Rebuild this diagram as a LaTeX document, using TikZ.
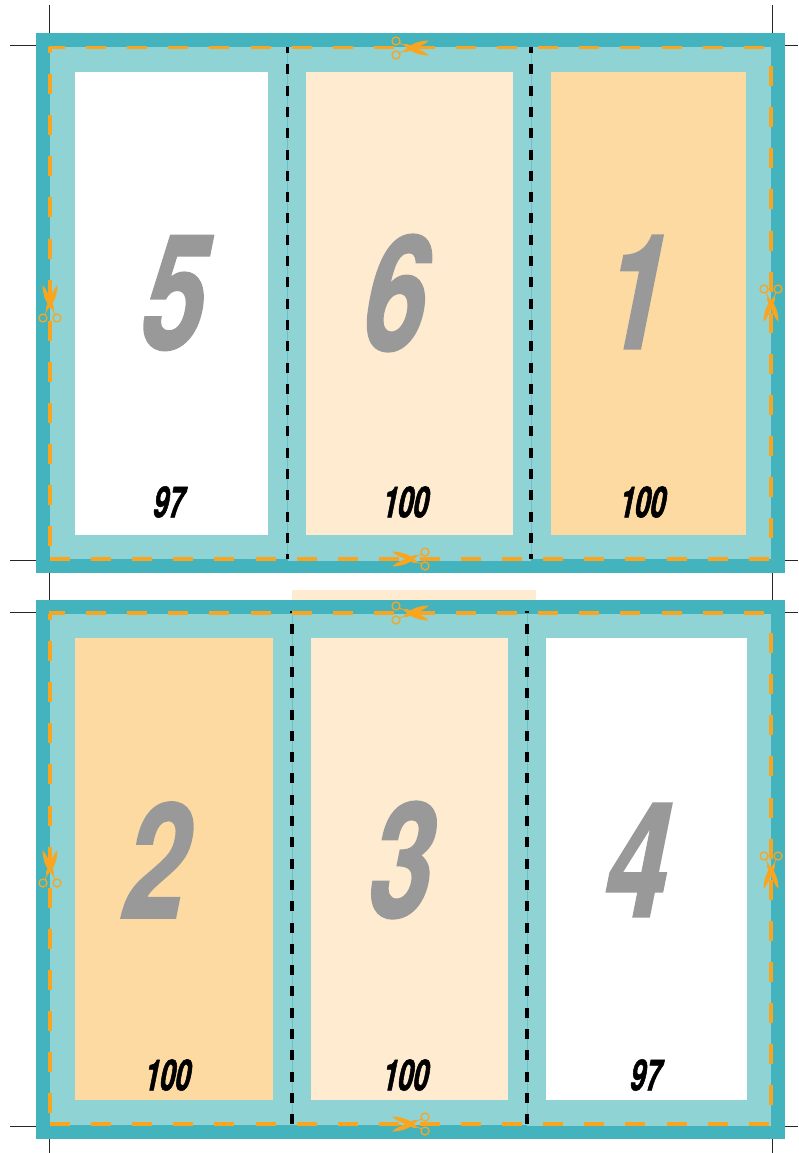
\documentclass[tikz,border=0pt]{standalone}
\usepackage{fontspec}
\usetikzlibrary{positioning}
\newfontfamily\numfont[FakeStretch=0.7,FakeSlant=0.2,FakeBold=1.2]{TeX Gyre Heros}
\newfontfamily\countfont[FakeStretch=0.64,FakeSlant=0.2,FakeBold=1.2]{TeX Gyre Heros}
\definecolor{sheetteal}{HTML}{43B4BD}
\definecolor{bleedteal}{HTML}{90D3D4}
\definecolor{foldteal}{HTML}{6BC2C6}
\definecolor{pagecream}{HTML}{FEEBD0}
\definecolor{pageorange}{HTML}{FEDAA3}
\definecolor{cutorange}{HTML}{F9A51F}
\definecolor{numgray}{HTML}{999999}

\begin{document}
\begin{tikzpicture}[
      x=1pt, y=-1pt,
      cropmark/.style={draw=black!85, line width=1pt},
      foldline/.style={draw=black, line width=3.4pt, dash pattern=on 10pt off 11.3pt},
      foldthin/.style={draw=foldteal, line width=0.7pt},
      cutline/.style={draw=cutorange, line width=3.2pt, dash pattern=on 20pt off 21.1pt},
      bignum/.style={font=\fontsize{160}{160}\selectfont\numfont\bfseries, text=numgray, inner sep=0pt},
      smallnum/.style={font=\fontsize{43}{43}\selectfont\countfont\bfseries, text=black, inner sep=0pt},
      scissors/.pic={
        \draw[cutorange, line width=1.3pt] (-14,-7) circle[radius=4] (-14,7) circle[radius=4];
        \draw[cutorange, line width=0.8pt] (-11,-5) -- (-3,-2) (-11,5) -- (-3,2);
        \fill[cutorange] (-7,3.5) -- (0,-2.5) .. controls (6,-6) and (13,-7.5) .. (19,-7.5)
          .. controls (15,-3.5) and (8,-0.8) .. (3,1) -- (-3,4) -- cycle;
        \fill[cutorange] (-7,-3.5) -- (0,2.5) .. controls (6,6) and (13,7.5) .. (19,7.5)
          .. controls (15,3.5) and (8,0.8) .. (3,-1) -- (-3,-4) -- cycle;
      }
    ]
      \useasboundingbox (0,0) rectangle (798,1153);

      % crop marks
      \draw[cropmark] (49,5) -- (49,33) (772,5) -- (772,33);
      \draw[cropmark] (49,573) -- (49,600) (772,573) -- (772,600);
      \draw[cropmark] (49,1139) -- (49,1153) (772,1139) -- (772,1153);
      \draw[cropmark] (10,46) -- (36,46) (785,46) -- (798,46);
      \draw[cropmark] (10,560) -- (36,560) (785,560) -- (798,560);
      \draw[cropmark] (10,612) -- (36,612) (785,612) -- (798,612);
      \draw[cropmark] (10,1126) -- (36,1126) (785,1126) -- (798,1126);

      % upper sheet
      \fill[sheetteal] (36,33) rectangle (785,573);
      \fill[bleedteal] (50,47) rectangle (771,559);
      \fill[bleedteal] (288,47) rectangle (531,561);
      \fill[white] (75,72) rectangle (268,535);
      \fill[pagecream] (306,72) rectangle (513,535);
      \fill[pageorange] (551,72) rectangle (746,535);

      % lower sheet
      \fill[pagecream] (292,590) rectangle (536,600);
      \fill[sheetteal] (36,600) rectangle (785,1139);
      \fill[bleedteal] (50,614) rectangle (771,1125);
      \fill[bleedteal] (527,614) rectangle (771,1126);
      \fill[pageorange] (75,638) rectangle (273,1100);
      \fill[pagecream] (311,638) rectangle (508,1100);
      \fill[white] (546,638) rectangle (747,1100);

      % folds
      \draw[foldthin] (287.5,47) -- (287.5,559) (531,47) -- (531,559);
      \draw[foldline, dash phase=4pt] (287.5,47) -- (287.5,559);
      \draw[foldline, dash phase=4pt] (531,47) -- (531,559);
      \draw[foldthin] (292,614) -- (292,1125) (527,614) -- (527,1125);
      \draw[foldline, dash phase=8pt] (292,611) -- (292,1125);
      \draw[foldline, dash phase=8pt] (527,611) -- (527,1125);

      % cut lines
      \draw[cutline, dash phase=4pt] (49,47.5) -- (772,47.5);
      \draw[cutline] (50,559) -- (772,559);
      \draw[cutline, dash phase=14pt] (50,47) -- (50,559);
      \draw[cutline, dash phase=22pt] (771,47) -- (771,559);
      \draw[cutline, dash phase=4pt] (49,613) -- (772,613);
      \draw[cutline] (50,1124) -- (772,1124);
      \draw[cutline, dash phase=14pt] (50,614) -- (50,1125);
      \draw[cutline, dash phase=22pt] (771,614) -- (771,1125);

      \pic at (410,48) {scissors};
      \pic[rotate=180] at (411,559) {scissors};
      \pic[rotate=90] at (50,304) {scissors};
      \pic[rotate=-90] at (771,303) {scissors};
      \pic at (410,613) {scissors};
      \pic[rotate=180] at (411,1124) {scissors};
      \pic[rotate=90] at (50,869) {scissors};
      \pic[rotate=-90] at (771,870) {scissors};

      % page numbers
      \node[bignum] (p5) at (167,293) {5};
      \node[bignum] (p6) at (388,293) {6};
      \node[bignum] (p1) at (629,292) {1};
      \node[bignum] (p2) at (149,860) {2};
      \node[bignum] (p3) at (394,860) {3};
      \node[bignum] (p4) at (630,860) {4};

      \node[smallnum] (c5) at (167,502) {97};
      \node[smallnum] (c6) at (404,502) {100};
      \node[smallnum] (c1) at (641,502) {100};
      \node[smallnum] (c2) at (166,1075) {100};
      \node[smallnum] (c3) at (404,1075) {100};
      \node[smallnum] (c4) at (644,1075) {97};
    \end{tikzpicture}
\end{document}
